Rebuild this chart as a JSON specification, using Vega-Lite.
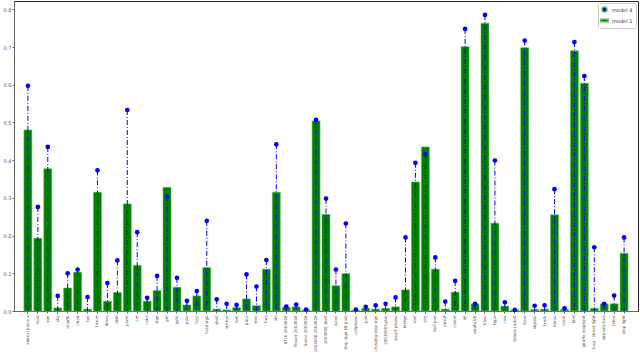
{
  "$schema": "https://vega.github.io/schema/vega-lite/v6.json",
  "width": 624,
  "height": 310,
  "autosize": "none",
  "padding": {"left": 14, "top": 1, "right": 2, "bottom": 44},
  "background": "white",
  "config": {
    "font": "DejaVu Sans",
    "view": {"stroke": "#222", "strokeWidth": 1},
    "axis": {"domainColor": "#666", "tickColor": "#666", "labelColor": "#555", "grid": false, "labelFont": "DejaVu Sans"},
    "legend": {"labelFont": "DejaVu Sans"}
  },
  "data": {
    "values": [
      {"cat": "animal place x", "m1": 0.48, "m4": 0.597},
      {"cat": "food", "m1": 0.193, "m4": 0.276},
      {"cat": "sun", "m1": 0.377, "m4": 0.435},
      {"cat": "sky", "m1": 0.008, "m4": 0.04},
      {"cat": "mouth", "m1": 0.061, "m4": 0.1},
      {"cat": "chair", "m1": 0.103, "m4": 0.11},
      {"cat": "tail", "m1": 0.005, "m4": 0.037},
      {"cat": "tower", "m1": 0.315, "m4": 0.373},
      {"cat": "dress", "m1": 0.026, "m4": 0.074},
      {"cat": "dish", "m1": 0.049, "m4": 0.134},
      {"cat": "plate", "m1": 0.284, "m4": 0.533},
      {"cat": "car", "m1": 0.121, "m4": 0.209},
      {"cat": "cake", "m1": 0.026, "m4": 0.035},
      {"cat": "sign", "m1": 0.054, "m4": 0.093},
      {"cat": "girl", "m1": 0.328, "m4": 0.303},
      {"cat": "gate", "m1": 0.063, "m4": 0.088},
      {"cat": "pole", "m1": 0.016, "m4": 0.027},
      {"cat": "face", "m1": 0.04, "m4": 0.053},
      {"cat": "food sign", "m1": 0.115, "m4": 0.239},
      {"cat": "shelf", "m1": 0.005, "m4": 0.031},
      {"cat": "sticker", "m1": 0.003, "m4": 0.019},
      {"cat": "fork", "m1": 0.009, "m4": 0.016},
      {"cat": "juice", "m1": 0.032, "m4": 0.097},
      {"cat": "tree", "m1": 0.014, "m4": 0.065},
      {"cat": "bus", "m1": 0.111, "m4": 0.135},
      {"cat": "ski", "m1": 0.315, "m4": 0.442},
      {"cat": "BTL0 2003008", "m1": 0.01, "m4": 0.012},
      {"cat": "flower 2003008", "m1": 0.011, "m4": 0.017},
      {"cat": "frame 2003008", "m1": 0.003, "m4": 0.004},
      {"cat": "2003008 2003008", "m1": 0.504, "m4": 0.507},
      {"cat": "2003008 shelf", "m1": 0.256, "m4": 0.298},
      {"cat": "wave", "m1": 0.067, "m4": 0.11},
      {"cat": "stop sign kit pole", "m1": 0.099, "m4": 0.232},
      {"cat": "cellphone", "m1": 0.002, "m4": 0.004},
      {"cat": "pan", "m1": 0.007, "m4": 0.011},
      {"cat": "crossing stop sign", "m1": 0.005, "m4": 0.015},
      {"cat": "2003008 table", "m1": 0.007, "m4": 0.019},
      {"cat": "smart phone", "m1": 0.011, "m4": 0.036},
      {"cat": "bridge", "m1": 0.056, "m4": 0.195},
      {"cat": "roof", "m1": 0.342, "m4": 0.393},
      {"cat": "sea", "m1": 0.435, "m4": 0.416},
      {"cat": "bull pen", "m1": 0.111, "m4": 0.142},
      {"cat": "carrot", "m1": 0.005, "m4": 0.025},
      {"cat": "cooler", "m1": 0.05, "m4": 0.08},
      {"cat": "sb", "m1": 0.701, "m4": 0.748},
      {"cat": "sandwich", "m1": 0.019, "m4": 0.019},
      {"cat": "bowl", "m1": 0.763, "m4": 0.785},
      {"cat": "tiger", "m1": 0.233, "m4": 0.399},
      {"cat": "cow", "m1": 0.013, "m4": 0.023},
      {"cat": "tennis racket", "m1": 0.003, "m4": 0.003},
      {"cat": "bear", "m1": 0.698, "m4": 0.717},
      {"cat": "skyline", "m1": 0.004, "m4": 0.014},
      {"cat": "truck", "m1": 0.005, "m4": 0.015},
      {"cat": "horse", "m1": 0.255, "m4": 0.323},
      {"cat": "clock", "m1": 0.004, "m4": 0.007},
      {"cat": "bird", "m1": 0.69, "m4": 0.713},
      {"cat": "giraffe elephant", "m1": 0.604, "m4": 0.623},
      {"cat": "bag - street light", "m1": 0.007, "m4": 0.169},
      {"cat": "airplane bus", "m1": 0.019, "m4": 0.019},
      {"cat": "zebra", "m1": 0.019, "m4": 0.041},
      {"cat": "stop light", "m1": 0.153, "m4": 0.195}
    ]
  },
  "encoding": {
    "x": {
      "field": "cat", "type": "nominal", "sort": null,
      "scale": {"paddingInner": 0.2, "paddingOuter": 2.95},
      "axis": {"title": null, "labelAngle": -90, "labelFontSize": 4, "labelPadding": 2, "tickSize": 2, "labelLimit": 38}
    }
  },
  "layer": [
    {
      "mark": {"type": "bar", "color": "#008000", "stroke": "#5cb85c", "strokeWidth": 0.6},
      "encoding": {
        "y": {
          "field": "m1", "type": "quantitative",
          "scale": {"domain": [0, 0.822], "nice": false},
          "axis": {"title": null, "values": [0, 0.1, 0.2, 0.3, 0.4, 0.5, 0.6, 0.7, 0.8], "format": ".1f", "labelFontSize": 5, "tickSize": 2, "labelPadding": 1, "labelOverlap": false}
        },
        "color": {"datum": "model 1", "type": "nominal",
          "scale": {"domain": ["model 4", "model 1"], "range": ["#0000ff", "#008000"]},
          "legend": {"title": null, "orient": "top-right", "offset": 2, "fillColor": "white", "strokeColor": "#cccccc", "cornerRadius": 2, "padding": 3, "labelFontSize": 5, "labelColor": "#333", "symbolSize": 24, "rowPadding": 1}}
      }
    },
    {
      "mark": {"type": "rule", "color": "#0000ff", "strokeWidth": 1, "strokeDash": [5, 2, 1, 2]},
      "encoding": {
        "y": {"field": "m4", "type": "quantitative", "axis": {"title": null, "values": [0, 0.1, 0.2, 0.3, 0.4, 0.5, 0.6, 0.7, 0.8], "format": ".1f", "labelFontSize": 5, "tickSize": 2, "labelPadding": 1, "labelOverlap": false}},
        "y2": {"datum": 0}
      }
    },
    {
      "mark": {"type": "point", "filled": true, "opacity": 1, "size": 22},
      "encoding": {
        "y": {"field": "m4", "type": "quantitative", "axis": {"title": null, "values": [0, 0.1, 0.2, 0.3, 0.4, 0.5, 0.6, 0.7, 0.8], "format": ".1f", "labelFontSize": 5, "tickSize": 2, "labelPadding": 1, "labelOverlap": false}},
        "color": {"datum": "model 4", "type": "nominal"},
        "shape": {"datum": "model 4", "type": "nominal",
          "scale": {"domain": ["model 4", "model 1"], "range": ["circle", "M-1.5,-0.55H1.5V0.55H-1.5Z"]},
          "legend": {"title": null}}
      }
    }
  ]
}
